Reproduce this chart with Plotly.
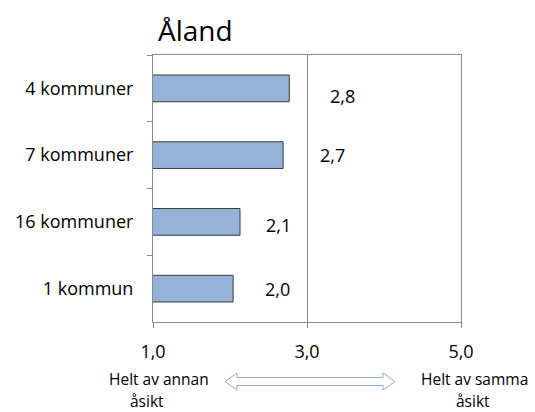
import plotly.graph_objects as go

# data, top to bottom as in the chart
groups = ["4 kommuner", "7 kommuner", "16 kommuner", "1 kommun"]
means = [2.77, 2.69, 2.13, 2.04]
tick_vals = [1, 3, 5]
tick_text = ["1,0", "3,0", "5,0"]
scale_low = ["Helt av annan", "åsikt"]
scale_high = ["Helt av samma", "åsikt"]

FONT = "Open Sans"
W, H = 535, 412
ML, MR, MT, MB = 153, 74, 55, 90
PW, PH = W - ML - MR, H - MT - MB


def px(x, y):
    # pixel position -> paper coords (used for the decorative arrow only)
    return (x - ML) / PW, (H - MB - y) / PH


fig = go.Figure()
fig.add_trace(go.Bar(
    x=means,
    y=groups,
    orientation='h',
    marker=dict(color='#95B3D7', line=dict(color='#3a3a3a', width=1)),
    hoverinfo='skip'
))

# value labels, placed a bit to the right of each bar (as in the original)
xshift = [53, 49, 38, 44]
yshift = [-8, 0, -3, 0]
for i, (g, v) in enumerate(zip(groups, means)):
    fig.add_annotation(
        x=v, y=g, text=f"{v:.1f}".replace(".", ","),
        showarrow=False, xanchor='center', yanchor='middle',
        xshift=xshift[i], yshift=yshift[i],
        font=dict(family=FONT, size=18, color='black')
    )

# scale end texts under the axis
ends = [(scale_low, 0, [5.5, -6.5]), (scale_high, 1, [13, 11.5])]
for lines, xp, shifts in ends:
    for j, line in enumerate(lines):
        fig.add_annotation(
            x=xp, y=0, xref='paper', yref='paper', text=line,
            showarrow=False, xanchor='center', yanchor='middle',
            xshift=shifts[j], yshift=[-57, -79][j],
            font=dict(family=FONT, size=15.5, color='black')
        )

# hollow double arrow between the two texts
pts = [(225, 381.5), (237, 373), (237, 377.5), (383, 377.5), (383, 373), (395, 381.5),
       (383, 390), (383, 385.5), (237, 385.5), (237, 390)]
pts = [px(*p) for p in pts]
path = "M " + " L ".join(f"{a:.4f},{b:.4f}" for a, b in pts) + " Z"
fig.add_shape(type='path', path=path, xref='paper', yref='paper',
              line=dict(color='#8FAADC', width=1), fillcolor='white')

fig.update_layout(
    width=W, height=H,
    margin=dict(l=ML, r=MR, t=MT, b=MB, autoexpand=False),
    paper_bgcolor='white', plot_bgcolor='white',
    showlegend=False,
    bargap=0.6,
    title=dict(text="Åland", x=158 / W, xref='container', xanchor='left',
               y=1 - 31 / H, yref='container', yanchor='middle',
               font=dict(family=FONT, size=28, color='black')),
    xaxis=dict(range=[1, 5], tickvals=tick_vals, ticktext=tick_text,
               showgrid=True, gridcolor='#888888', gridwidth=1,
               showline=True, linecolor='#888888', linewidth=1, mirror=True,
               ticks='outside', ticklen=5, tickcolor='#888888',
               ticklabelstandoff=8, zeroline=False, automargin=False,
               tickfont=dict(family=FONT, size=18, color='black')),
    yaxis=dict(autorange='reversed', showgrid=False,
               showline=True, linecolor='#888888', linewidth=1, mirror=True,
               ticks='outside', ticklen=5, tickcolor='#888888', tickson='boundaries',
               ticklabelstandoff=15, automargin=False,
               tickfont=dict(family=FONT, size=18, color='black')),
)

# drop the browser's default 8px body margin so the figure sits at the page corner
fig.write_html("out.html", config={'displayModeBar': False},
               post_script="document.body.style.margin='0';document.body.style.overflow='hidden';")
